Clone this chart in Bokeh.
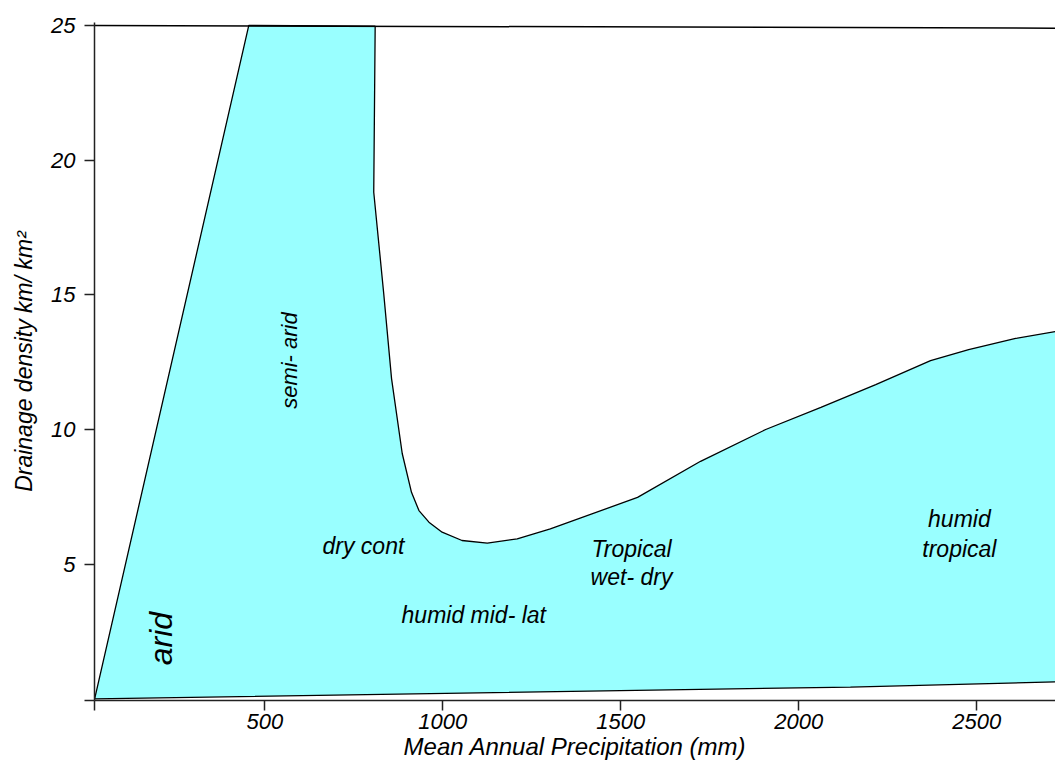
from bokeh.plotting import figure
from bokeh.models import Range1d, FixedTicker, Label
from bokeh.embed import file_html
from bokeh.resources import INLINE
import math

# ---- data ----
x_start, x_end = 21.6, 2721
y_start, y_end = -0.06, 25.11

upper_precip = [22, 455, 810, 806, 834, 856, 886, 912, 933, 961, 998, 1054, 1125, 1209,
                1302, 1547, 1724, 1907, 2062, 2216, 2370, 2477, 2609, 2721]
upper_density = [0, 25, 24.97, 18.81, 15.05, 11.89, 9.11, 7.67, 6.99, 6.56, 6.19, 5.88, 5.78, 5.94,
                 6.31, 7.48, 8.82, 10.0, 10.82, 11.67, 12.56, 12.97, 13.38, 13.64]
lower_precip = [22, 2145, 2721]
lower_density = [0, 0.44, 0.63]
top_precip = [x_start, x_end]
top_density = [25.0, 24.9]

x_ticks = [500, 1000, 1500, 2000, 2500]
y_ticks = [5, 10, 15, 20, 25]

FONT = "Liberation Sans"

p = figure(width=1055, height=771, output_backend="svg", toolbar_location=None,
           x_range=Range1d(x_start, x_end), y_range=Range1d(y_start, y_end),
           min_border_left=94, min_border_right=0, min_border_top=22, min_border_bottom=71)
p.outline_line_color = None
p.grid.visible = False
p.background_fill_color = "white"
p.border_fill_color = "white"

# filled region
poly_x = upper_precip + lower_precip[::-1][:-1]
poly_y = upper_density + lower_density[::-1][:-1]
p.patch(poly_x, poly_y, fill_color="#99ffff", line_color=None)
p.line(upper_precip, upper_density, line_color="black", line_width=1.3)
p.line(lower_precip, lower_density, line_color="black", line_width=1.3)
p.line(top_precip, top_density, line_color="black", line_width=1.5)

for ax, ticks, start in ((p.xaxis[0], x_ticks, x_start), (p.yaxis[0], y_ticks, y_start)):
    ax.ticker = FixedTicker(ticks=[start] + ticks)
    ax.major_label_overrides = {start: ""}
    ax.axis_line_width = 1.5
    ax.axis_line_color = "#222222"
    ax.major_tick_line_color = "#222222"
    ax.major_tick_line_width = 1.5
    ax.major_tick_out = 10
    ax.major_tick_in = 0
    ax.minor_tick_line_color = None
    ax.major_label_text_font = FONT
    ax.major_label_text_font_style = "italic"
    ax.major_label_text_font_size = "22px"
    ax.major_label_text_color = "black"
    ax.axis_label_text_font = FONT
    ax.axis_label_text_font_style = "italic"
    ax.axis_label_text_color = "black"

p.xaxis.major_label_standoff = 3
p.yaxis.major_label_standoff = 9
p.xaxis.axis_label = "Mean Annual Precipitation (mm)"
p.xaxis.axis_label_text_font_size = "24px"
p.xaxis.axis_label_standoff = 1
p.yaxis.axis_label = "Drainage density km/ km\u00b2"
p.yaxis.axis_label_text_font_size = "23px"
p.yaxis.axis_label_standoff = 11

# region labels
regions = [
    ("semi- arid", 569, 12.56, math.pi / 2, "22px"),
    ("arid", 207, 2.24, math.pi / 2, "32px"),
    ("dry cont", 777, 5.69, 0, "23px"),
    ("humid mid- lat", 1087, 3.10, 0, "23px"),
    ("Tropical", 1530, 5.55, 0, "23px"),
    ("wet- dry", 1530, 4.51, 0, "23px"),
    ("humid", 2451, 6.67, 0, "23px"),
    ("tropical", 2451, 5.58, 0, "23px"),
]
for txt, x, y, ang, fs in regions:
    p.add_layout(Label(x=x, y=y, text=txt, angle=ang, text_font=FONT, text_font_style="italic",
                       text_font_size=fs, text_align="center", text_baseline="middle",
                       text_color="black"))

open("out.html", "w").write(file_html(p, INLINE))
